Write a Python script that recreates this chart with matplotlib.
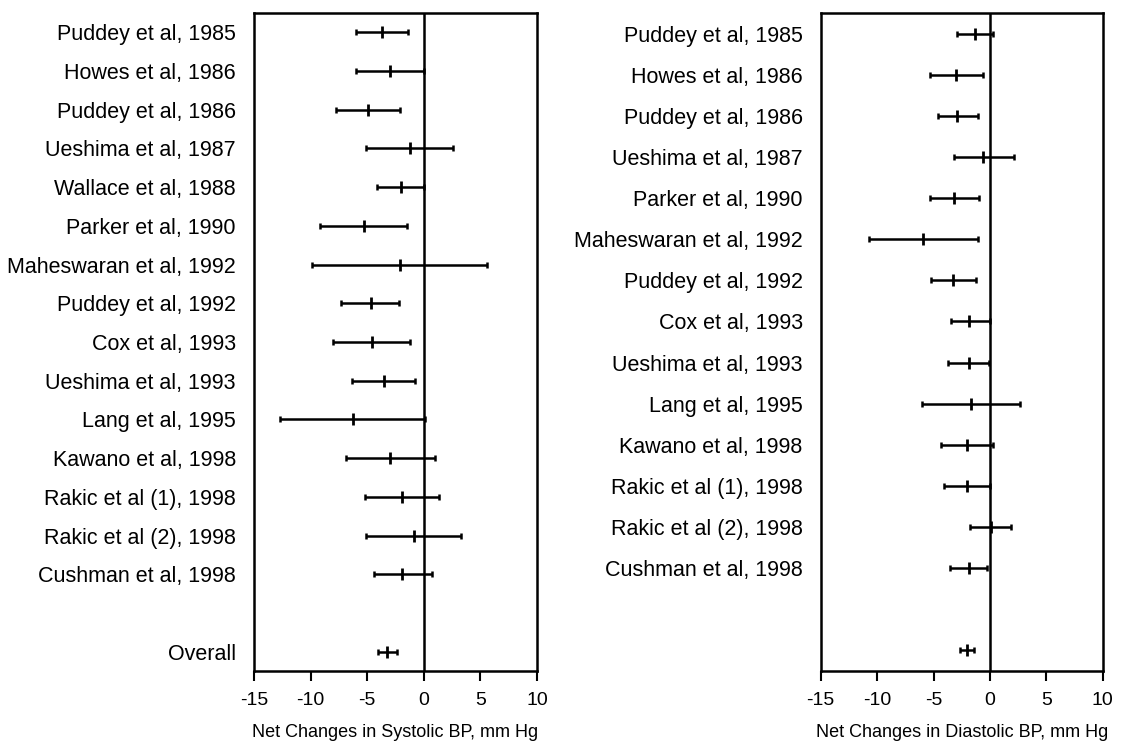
import matplotlib.pyplot as plt

plt.rcParams['font.family'] = ['Liberation Sans', 'DejaVu Sans']
plt.rcParams['axes.unicode_minus'] = False

# systolic panel
sys_labels = ['Puddey et al, 1985', 'Howes et al, 1986', 'Puddey et al, 1986',
              'Ueshima et al, 1987', 'Wallace et al, 1988', 'Parker et al, 1990',
              'Maheswaran et al, 1992', 'Puddey et al, 1992', 'Cox et al, 1993',
              'Ueshima et al, 1993', 'Lang et al, 1995', 'Kawano et al, 1998',
              'Rakic et al (1), 1998', 'Rakic et al (2), 1998', 'Cushman et al, 1998']
sys_mean = [-3.7, -3.0, -4.9, -1.25, -2.0, -5.3, -2.1, -4.7, -4.6, -3.55, -6.25, -2.95, -1.9, -0.9, -1.9]
sys_lo = [-6.0, -6.0, -7.8, -5.1, -4.1, -9.2, -9.85, -7.3, -8.0, -6.3, -12.7, -6.85, -5.2, -5.1, -4.4]
sys_hi = [-1.4, 0.0, -2.1, 2.6, 0.0, -1.45, 5.55, -2.2, -1.25, -0.75, 0.1, 1.0, 1.35, 3.3, 0.7]
sys_overall = (-3.25, -4.05, -2.4)

# diastolic panel
dia_labels = ['Puddey et al, 1985', 'Howes et al, 1986', 'Puddey et al, 1986',
              'Ueshima et al, 1987', 'Parker et al, 1990', 'Maheswaran et al, 1992',
              'Puddey et al, 1992', 'Cox et al, 1993', 'Ueshima et al, 1993',
              'Lang et al, 1995', 'Kawano et al, 1998', 'Rakic et al (1), 1998',
              'Rakic et al (2), 1998', 'Cushman et al, 1998']
dia_mean = [-1.3, -3.05, -2.9, -0.6, -3.15, -5.95, -3.3, -1.9, -1.9, -1.7, -2.0, -2.0, 0.05, -1.9]
dia_lo = [-2.95, -5.35, -4.6, -3.15, -5.3, -10.7, -5.2, -3.45, -3.7, -6.0, -4.3, -4.05, -1.75, -3.5]
dia_hi = [0.3, -0.65, -1.1, 2.15, -0.95, -1.1, -1.25, 0.0, -0.1, 2.7, 0.3, 0.0, 1.85, -0.3]
dia_overall = (-2.05, -2.65, -1.4)

xticks = [-15, -10, -5, 0, 5, 10]


def forest(ax, labels, mean, lo, hi, overall, overall_label, xlabel):
    n = len(labels)
    ys = list(range(n)) + [n + 1]
    m = list(mean) + [overall[0]]
    lows = list(lo) + [overall[1]]
    highs = list(hi) + [overall[2]]
    err = [[a - b for a, b in zip(m, lows)], [b - a for a, b in zip(m, highs)]]
    ax.axvline(0, color='black', lw=1.8, zorder=1)
    ax.errorbar(m, ys, xerr=err, fmt='none', ecolor='black', elinewidth=1.8,
                capsize=2.5, capthick=1.8, zorder=3)
    ax.plot(m, ys, '|', color='black', ms=8, mew=2, zorder=4)
    ax.set_ylim(n + 1.5, -0.5)
    ax.set_xlim(-15, 10)
    ax.set_yticks(ys)
    ax.set_yticklabels(list(labels) + [overall_label], fontsize=15.5)
    ax.tick_params(axis='y', length=0, pad=13)
    ax.set_xticks(xticks)
    ax.set_xticklabels([str(t) for t in xticks], fontsize=14)
    ax.tick_params(axis='x', direction='out', length=7, width=1.5, pad=8)
    ax.set_xlabel(xlabel, fontsize=13, labelpad=11)
    for s in ax.spines.values():
        s.set_linewidth(1.8)


fig = plt.figure(figsize=(11.3, 7.44), dpi=100)
ax1 = fig.add_axes([0.2248, 0.0981, 0.2504, 0.8844])
ax2 = fig.add_axes([0.7263, 0.0981, 0.2496, 0.8844])

forest(ax1, sys_labels, sys_mean, sys_lo, sys_hi, sys_overall, 'Overall',
       'Net Changes in Systolic BP, mm Hg')
forest(ax2, dia_labels, dia_mean, dia_lo, dia_hi, dia_overall, '',
       'Net Changes in Diastolic BP, mm Hg')

fig.savefig('out.png', dpi=100)
